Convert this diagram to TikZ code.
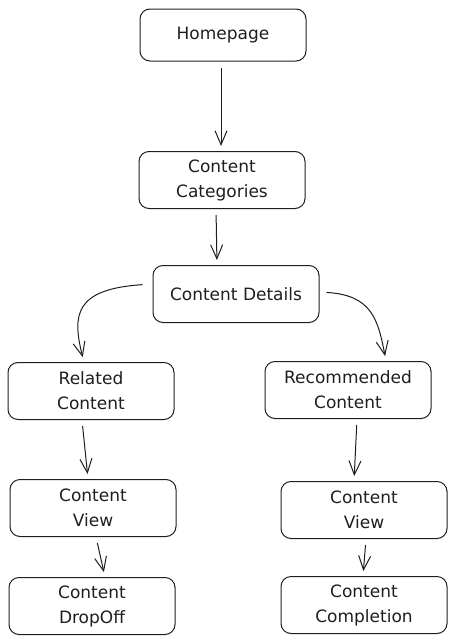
\documentclass[tikz,border=0pt]{standalone}
\usepackage{fontspec}
\setmainfont{DejaVu Sans}
\usepackage{tikz}
\usetikzlibrary{arrows.meta}
\definecolor{ink}{HTML}{1E1E1E}

\begin{document}
\begin{tikzpicture}[x=1pt,y=1pt]
\tikzstyle{every node}+=[inner sep=0pt]
\tikzstyle{box}=[draw=ink, rounded corners=10pt, line width=1pt, minimum width=166pt, minimum height=57pt, align=center, text=ink, font=\fontsize{17}{25}\selectfont]
\tikzstyle{arr}=[draw=ink, line width=1pt, -{Straight Barb[length=14pt,width=12pt]}, shorten <=6pt, shorten >=5pt]
\useasboundingbox (0,0) rectangle (460,-643);
\node [box, minimum height=52pt] (home) at (223,-35) {Homepage};
\node [box] (cat) at (222,-180) {Content\\Categories};
\node [box] (det) at (236,-294) {Content Details};
\node [box] (rel) at (91,-391) {Related\\Content};
\node [box] (rec) at (348,-390) {Recommended\\Content};
\node [box] (viewl) at (93,-508) {Content\\View};
\node [box] (viewr) at (364,-510) {Content\\View};
\node [box] (drop) at (92,-606) {Content\\DropOff};
\node [box] (comp) at (364,-605) {Content\\Completion};
\draw [arr] ([xshift=-2pt]home.south) -- ([xshift=-1pt]cat.north);
\draw [arr] ([xshift=-6pt]cat.south) -- ([xshift=-19pt]det.north);
\draw [arr, shorten <=10pt] ([yshift=10pt]det.west) .. controls +(-78,-5) and +(-12,47) .. ([xshift=-7pt]rel.north);
\draw [arr, shorten <=7pt] ([yshift=2pt]det.east) .. controls +(52,-3) and +(-8,42) .. ([xshift=38pt]rec.north);
\draw [arr] ([xshift=-9pt]rel.south) -- ([xshift=-5pt]viewl.north);
\draw [arr] ([xshift=9pt]rec.south) -- ([xshift=-10pt]viewr.north);
\draw [arr] ([xshift=3pt]viewl.south) -- ([xshift=13pt]drop.north);
\draw [arr] ([xshift=2pt]viewr.south) -- ([xshift=-1pt]comp.north);
\end{tikzpicture}
\end{document}
